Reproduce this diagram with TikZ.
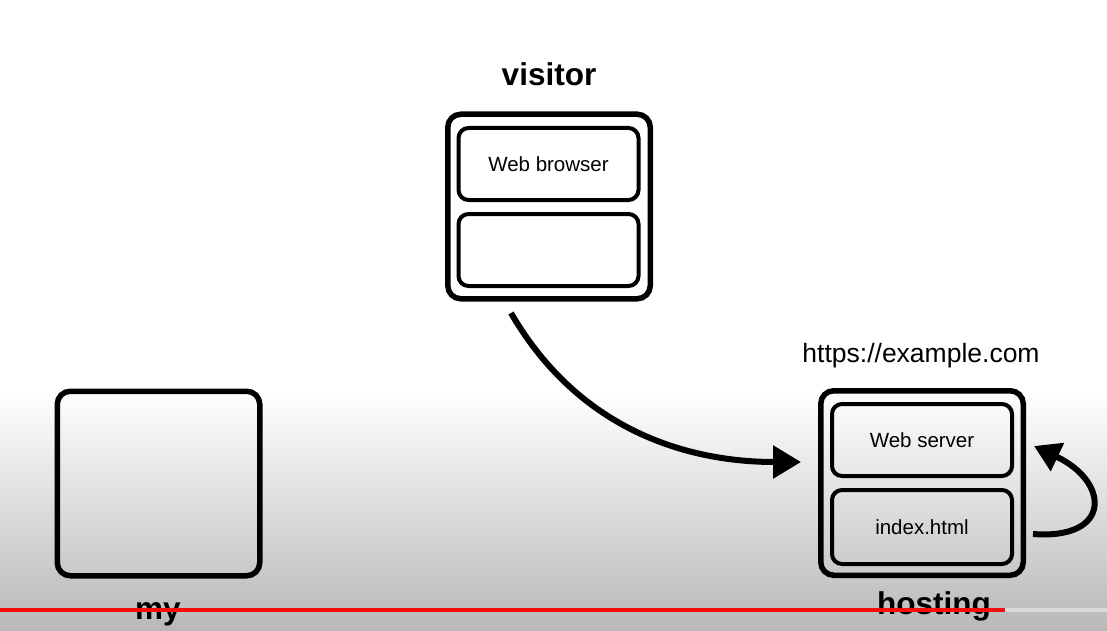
\documentclass[tikz,border=0pt]{standalone}
\usepackage{fontspec}
\setmainfont{Liberation Sans}
\usetikzlibrary{arrows.meta}
\definecolor{barred}{HTML}{F20F0F}
\definecolor{bargrey}{HTML}{D9D9D9}
\definecolor{floorgrey}{HTML}{B8B8B8}
\begin{document}
\begin{tikzpicture}[x=1pt,y=-1pt,
  outerbox/.style={draw,line width=5.5pt,rounded corners=13pt,
    minimum width=202.5pt,minimum height=184.5pt,inner sep=0pt},
  innerbox/.style={draw,line width=4pt,rounded corners=10pt,
    minimum width=180pt,minimum height=72pt,inner sep=0pt,
    font=\fontsize{20.5}{24}\selectfont},
  title/.style={font=\bfseries\fontsize{31.5}{36}\selectfont,anchor=base},
  flow/.style={line width=6pt,-{Triangle[length=28pt,width=32pt]}},
]
% backdrop: white page fading to grey towards the bottom
\useasboundingbox (0,0) rectangle (1107,631);
\fill[white] (0,0) rectangle (1107,631);
\shade[top color=white,bottom color=floorgrey] (0,390) rectangle (1107,631);

% visitor machine
\node[outerbox] (visitor) at (549,206.5) {};
\node[innerbox] (browser) at (548.5,164) {Web browser};
\node[innerbox] (vlower) at (548.5,250) {};
\node[title] (vlabel) at (549,86) {visitor};

% hosting machine
\node[outerbox] (host) at (922,483) {};
\node[innerbox] (server) at (922,440) {Web server};
\node[innerbox,minimum height=74pt] (index) at (922,527) {index.html};
\node[font=\fontsize{26.5}{30}\selectfont,anchor=base] (url) at (921,362) {https://example.com};
\node[title] (hlabel) at (934,614) {hosting};

% own machine
\node[outerbox] (mine) at (158.5,483.5) {};
\node[title] (mlabel) at (158,619) {my};

% request from the browser to the server
\coordinate (reqstart) at (511,313);
\coordinate (reqend) at (801,462);
\draw[flow] (reqstart) .. controls (580,432) and (690,462) .. (reqend);

% server reading index.html
\coordinate (loopstart) at (1033,534);
\coordinate (loopend) at (1034,446);
\draw[line width=6pt,-{Triangle[length=26pt,width=30pt]}]
  (loopstart) .. controls (1112,540) and (1110,482) .. (loopend);

% progress bar along the bottom
\fill[bargrey] (1005,608) rectangle (1107,612);
\fill[barred] (0,608) rectangle (1005,612);
\end{tikzpicture}
\end{document}
